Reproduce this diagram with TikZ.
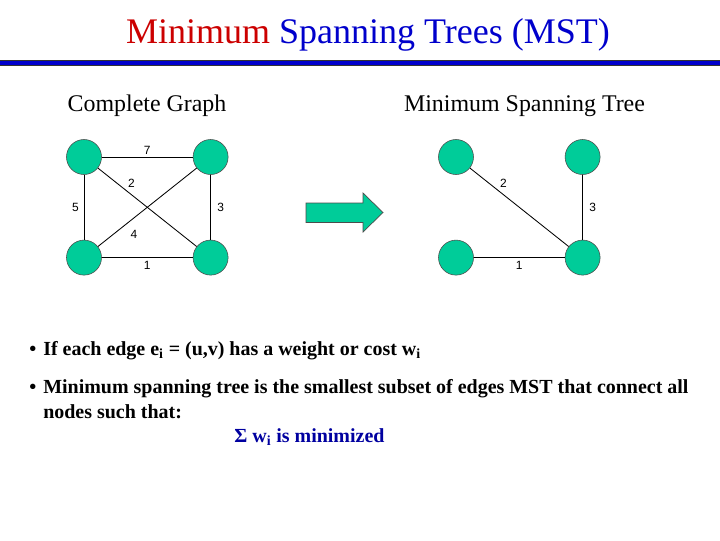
\documentclass[tikz,border=0pt]{standalone}
\usepackage{fontspec}
\setmainfont{Liberation Serif}
\newfontfamily\weightfont{Liberation Sans}
\usetikzlibrary{positioning}
\definecolor{nodegreen}{RGB}{0,204,153}
\definecolor{titlered}{RGB}{204,0,0}
\definecolor{titleblue}{RGB}{0,0,204}
\definecolor{sumblue}{RGB}{0,0,160}

\begin{document}
\begin{tikzpicture}[
    x=0.025cm, y=-0.025cm,
    node distance=1.625cm and 2.275cm,
    vertex/.style={circle, draw=black!70, fill=nodegreen, minimum size=0.875cm, inner sep=0pt},
    edge/.style={draw=black, line width=0.6pt},
    weight/.style={font=\weightfont\fontsize{8.5}{9}\selectfont, inner sep=1.5pt},
    heading/.style={font=\fontsize{17}{20}\selectfont, anchor=base},
    bullettext/.style={font=\bfseries\fontsize{14.2}{17.7}\selectfont, anchor=base west, align=left, inner sep=0pt}
]
\fill[white] (0,0) rectangle (720,540);
\useasboundingbox (0,0) rectangle (720,540);

% title and rule
\node[anchor=base, font=\fontsize{25.6}{30}\selectfont] (title) at (368,43)
    {\textcolor{titlered}{Minimum} \textcolor{titleblue}{Spanning Trees (MST)}};
\draw[fill=titleblue, draw=black!80, line width=0.5pt] (-1,60.5) rectangle (721,65.5);

\node[heading] (complete) at (147,111) {Complete Graph};
\node[heading] (mst) at (524.5,111) {Minimum Spanning Tree};

% complete graph
\node[vertex] (a1) at (84,157) {};
\node[vertex, right=of a1] (a2) {};
\node[vertex, below=of a1] (a3) {};
\node[vertex, below=of a2] (a4) {};

\draw[edge] (a1) -- node[weight, above]{7} (a2);
\draw[edge] (a1) -- node[weight, left=2pt]{5} (a3);
\draw[edge] (a2) -- node[weight, right=3pt]{3} (a4);
\draw[edge] (a3) -- node[weight, below=1pt]{1} (a4);
\draw[edge] (a1) -- node[weight, pos=0.28, above right=0pt]{2} (a4);
\draw[edge] (a3) -- node[weight, pos=0.365, below=7pt]{4} (a2);

% arrow between the graphs
\draw[fill=nodegreen, draw=black!70, line width=0.5pt]
    (306,203) -- (363,203) -- (363,193) -- (383,212.5) -- (363,232) -- (363,222.5) -- (306,222.5) -- cycle;

% spanning tree
\node[vertex] (b1) at (456,157) {};
\node[vertex, right=of b1] (b2) {};
\node[vertex, below=of b1] (b3) {};
\node[vertex, below=of b2] (b4) {};

\draw[edge] (b2) -- node[weight, right=3pt]{3} (b4);
\draw[edge] (b3) -- node[weight, below=1pt]{1} (b4);
\draw[edge] (b1) -- node[weight, pos=0.28, above right=0pt]{2} (b4);

% bullets
\node[bullettext] (dot1) at (29,355) {\textbullet};
\node[bullettext] (text1) at (43,355) {If each edge e\textsubscript{i} = (u,v) has a weight or cost w\textsubscript{i}};
\node[bullettext] (dot2) at (29,393) {\textbullet};
\node[bullettext] (text2) at (43,418) {Minimum spanning tree is the smallest subset of edges MST that connect all\\nodes such that:};
\node[bullettext, text=sumblue] (sum) at (234,442) {Σ w\textsubscript{i} is minimized};
\end{tikzpicture}
\end{document}
